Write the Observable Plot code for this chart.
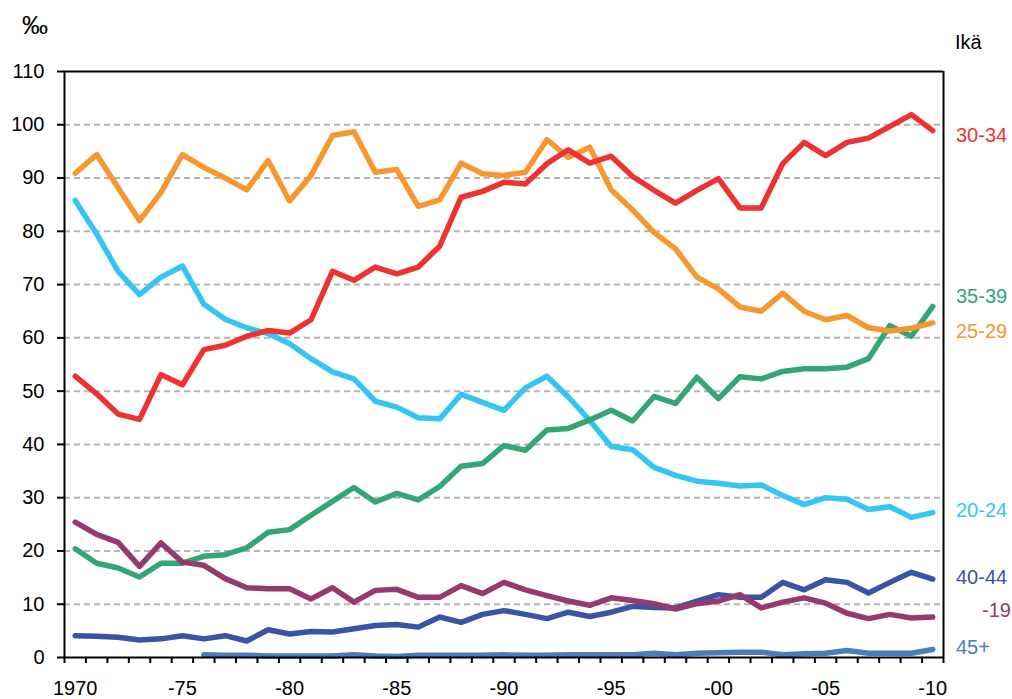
<!DOCTYPE html>
<html>
<head>
<meta charset="utf-8">
<script src="https://cdn.jsdelivr.net/npm/d3@7"></script>
<script src="https://cdn.jsdelivr.net/npm/@observablehq/plot@0.6"></script>
<style>
  html, body { margin: 0; padding: 0; background: #fff; overflow: hidden; }
  #wrap { position: relative; width: 1012px; height: 699px; font-family: "Liberation Sans", Arial, sans-serif; }
  .lbl { position: absolute; font-size: 20px; line-height: 24px; white-space: nowrap; }
</style>
</head>
<body>
<div id="wrap"></div>
<script>
// ---- data ----
const years = d3.range(1970, 2011);
const age2529 = [90.9,94.4,88.2,82.0,87.3,94.4,92.0,90.0,87.8,93.3, 85.7,90.5,98.0,98.7,91.1,91.6,84.7,85.9,92.8,90.8, 90.5,91.1,97.2,93.9,95.8,87.8,84.0,79.8,76.7,71.4, 69.2,65.8,65.0,68.4,65.0,63.4,64.2,61.9,61.3,61.8,62.8];
const age3034 = [52.8,49.5,45.7,44.7,53.1,51.2,57.8,58.6,60.3,61.4, 60.9,63.4,72.5,70.8,73.3,72.0,73.3,77.2,86.4,87.5, 89.2,88.9,92.7,95.3,92.8,94.1,90.3,87.7,85.3,87.7, 89.9,84.4,84.4,92.7,96.7,94.2,96.7,97.5,99.7,101.9,98.9];
const age2024 = [85.8,79.5,72.5,68.1,71.4,73.5,66.3,63.5,61.9,60.8, 58.9,56.1,53.6,52.3,48.1,47.0,45.0,44.8,49.4,47.9, 46.4,50.6,52.8,48.9,44.5,39.6,39.0,35.7,34.2,33.1, 32.7,32.2,32.4,30.4,28.7,30.0,29.7,27.8,28.3,26.3,27.2];
const age3539 = [20.4,17.7,16.8,15.1,17.7,17.7,19.0,19.3,20.6,23.5, 24.0,26.7,29.3,31.9,29.2,30.8,29.6,32.1,35.9,36.4, 39.8,38.9,42.7,43.0,44.6,46.4,44.4,49.0,47.7,52.6, 48.6,52.7,52.3,53.7,54.2,54.2,54.5,56.1,62.3,60.3,65.9];
const ageU19 = [25.4,23.1,21.6,17.1,21.5,17.9,17.3,14.8,13.1,12.9, 12.9,11.0,13.1,10.4,12.6,12.8,11.3,11.3,13.5,12.0, 14.1,12.7,11.6,10.6,9.8,11.2,10.7,10.1,9.1,10.1, 10.6,11.8,9.3,10.4,11.2,10.2,8.3,7.3,8.1,7.4,7.6];
const age4044 = [4.1,4.0,3.8,3.3,3.5,4.1,3.5,4.1,3.1,5.2, 4.4,4.9,4.8,5.4,6.0,6.2,5.7,7.6,6.6,8.1, 8.8,8.1,7.3,8.5,7.7,8.5,9.6,9.4,9.3,10.6, 11.8,11.3,11.3,14.1,12.7,14.6,14.1,12.1,14.1,16.0,14.7];
const age45 = [null,null,null,null,null,null,0.5,0.4,0.4,0.3, 0.3,0.3,0.3,0.5,0.3,0.2,0.4,0.4,0.4,0.4, 0.5,0.4,0.4,0.5,0.5,0.5,0.5,0.8,0.5,0.8, 0.9,1.0,1.0,0.5,0.7,0.8,1.3,0.8,0.8,0.8,1.5];

const seriesNames = ["45+", "40-44", "20-24", "35-39", "-19", "25-29", "30-34"];
const seriesValues = [age45, age4044, age2024, age3539, ageU19, age2529, age3034];
const seriesColors = ["#4A7DC0", "#3B53A4", "#35C5F2", "#34A574", "#953A6D", "#F7972F", "#EE3232"];

const yTicks = d3.range(0, 111, 10);
const xLabelYears = [1970, 1975, 1980, 1985, 1990, 1995, 2000, 2005, 2010];
const xLabelTexts = ["1970", "-75", "-80", "-85", "-90", "-95", "-00", "-05", "-10"];
const unitLabel = "‰";
const legendTitle = "Ikä";

// ---- table ----
const rows = [];
seriesNames.forEach((name, s) => {
  years.forEach((yr, i) => rows.push({age: name, year: yr, value: seriesValues[s][i]}));
});

const boundaries = d3.range(1969.5, 2011, 1);
const font = "'Liberation Sans', Arial, sans-serif";

const chart = Plot.plot({
  width: 1012,
  height: 699,
  marginLeft: 64,
  marginRight: 69,
  marginTop: 71,
  marginBottom: 42,
  style: {fontSize: "20px", fontFamily: font, color: "#000", background: "#fff", overflow: "visible"},
  x: {domain: [1969.5, 2010.5]},
  y: {domain: [0, 110]},
  marks: [
    Plot.ruleY(yTicks.filter(d => d > 0 && d < 110), {stroke: "#B4B5B8", strokeWidth: 2, strokeDasharray: "6,4"}),
    ...seriesNames.map((name, s) => Plot.line(rows.filter(r => r.age === name), {
      x: "year", y: "value", stroke: seriesColors[s], strokeWidth: 5.5,
      strokeLinejoin: "round", strokeLinecap: "round"
    })),
    Plot.ruleY([0, 110], {stroke: "#000", strokeWidth: 2}),
    Plot.ruleX([1969.5, 2010.5], {stroke: "#000", strokeWidth: 2}),
    Plot.axisY(yTicks, {tickSize: 7, tickPadding: 13, strokeWidth: 2, label: null, tickFormat: d => String(d)}),
    Plot.axisX(boundaries, {tickSize: 6, strokeWidth: 2, tickFormat: () => "", label: null}),
    Plot.axisX(xLabelYears, {tickSize: 0, tickPadding: 23, label: null, tickFormat: d => xLabelTexts[xLabelYears.indexOf(d)]})
  ]
});

const wrap = document.getElementById("wrap");
wrap.appendChild(chart);

// ---- text labels (legend) ----
function addLabel(text, left, centerY, color, size) {
  const el = document.createElement("div");
  el.className = "lbl";
  el.textContent = text;
  el.style.left = left + "px";
  el.style.top = (centerY - 12) + "px";
  el.style.color = color;
  if (size) el.style.fontSize = size + "px";
  wrap.appendChild(el);
}
addLabel(unitLabel, 22, 25, "#000", 26);
addLabel(legendTitle, 955, 42, "#000");
const labelPos = {"30-34": [956, 135], "35-39": [956, 296], "25-29": [956, 331], "20-24": [956, 510], "40-44": [956, 577], "-19": [982, 610], "45+": [956, 647]};
seriesNames.forEach((name, s) => {
  const p = labelPos[name];
  addLabel(name, p[0], p[1], seriesColors[s]);
});
</script>
</body>
</html>
